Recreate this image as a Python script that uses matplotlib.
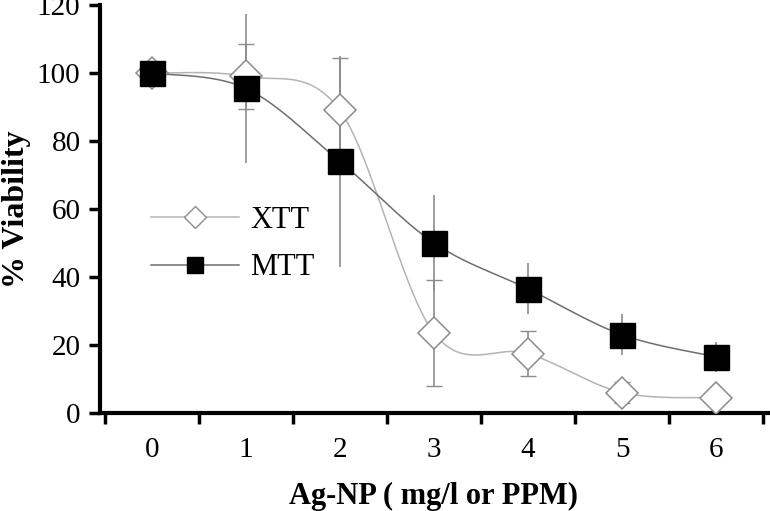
import numpy as np
import matplotlib.pyplot as plt

# donnees
doses = [0, 1, 2, 3, 4, 5, 6]
xtt = [100, 99, 89, 23.5, 17.5, 6, 4.5]
xtt_err = [0.5, 9.5, 15.5, 15.5, 6.6, 3, 1]
mtt = [100, 95.5, 74, 50, 36.5, 23, 16.5]
mtt_err = [0.5, 22, 31, 14, 7.5, 6, 4.5]
yticks = [0, 20, 40, 60, 80, 100, 120]


def lissage(x, y, n=40):
    # courbe lissee type tableur (bezier cubique, tangentes catmull-rom)
    x = np.asarray(x, float)
    y = np.asarray(y, float)
    px = np.concatenate([[x[0]], x, [x[-1]]])
    py = np.concatenate([[y[0]], y, [y[-1]]])
    xs, ys = [], []
    t = np.linspace(0, 1, n)
    for i in range(1, len(px) - 2):
        p0 = np.array([px[i], py[i]])
        p3 = np.array([px[i + 1], py[i + 1]])
        p1 = p0 + (np.array([px[i + 1], py[i + 1]]) - np.array([px[i - 1], py[i - 1]])) / 6
        p2 = p3 - (np.array([px[i + 2], py[i + 2]]) - np.array([px[i], py[i]])) / 6
        b = ((1 - t) ** 3)[:, None] * p0 + (3 * (1 - t) ** 2 * t)[:, None] * p1 \
            + (3 * (1 - t) * t ** 2)[:, None] * p2 + (t ** 3)[:, None] * p3
        xs.append(b[:, 0])
        ys.append(b[:, 1])
    return np.concatenate(xs), np.concatenate(ys)


plt.rcParams['font.family'] = ['Liberation Serif', 'DejaVu Serif']

fig = plt.figure(figsize=(7.7, 5.11), dpi=100)
ax = fig.add_axes([100 / 770, 98 / 511, 668 / 770, 408 / 511])

# barres d'erreur
ax.errorbar(doses, xtt, yerr=xtt_err, fmt='none', ecolor='#8c8c8c',
            elinewidth=1.2, capsize=6, capthick=1, zorder=1)
ax.errorbar(doses, mtt, yerr=mtt_err, fmt='none', ecolor='#8c8c8c',
            elinewidth=1.2, capsize=0, zorder=1)

# courbes lissees
sx, sy = lissage(doses, xtt)
ax.plot(sx, sy, color='#b4b4b4', lw=1.1, zorder=2)
sx, sy = lissage(doses, mtt)
ax.plot(sx, sy, color='#6e6e6e', lw=1.1, zorder=2)

ax.plot(doses, xtt, linestyle='none', marker='D', markersize=16,
        markerfacecolor='white', markeredgecolor='#8c8c8c', markeredgewidth=1.1, zorder=3)
ax.plot(doses, mtt, linestyle='none', marker='s', markersize=18,
        markerfacecolor='black', markeredgecolor='black', zorder=4)

# legende
h1, = ax.plot([], [], color='#b4b4b4', lw=1.1, marker='D', markersize=11,
              markerfacecolor='white', markeredgecolor='#8c8c8c', label='XTT')
h2, = ax.plot([], [], color='#6e6e6e', lw=1.1, marker='s', markersize=12,
              markerfacecolor='black', markeredgecolor='black', label='MTT')
ax.legend(handles=[h1, h2], loc='upper left', bbox_to_anchor=(0.035, 0.575),
          frameon=False, fontsize=22, handlelength=2.9, handletextpad=0.35,
          labelspacing=0.6)

ax.set_xlim(-0.55, 6.55)
ax.set_ylim(0, 120)
ax.set_yticks(yticks)
ax.set_xticks(doses)
ax.set_xticks(np.arange(-0.5, 7, 1), minor=True)
ax.tick_params(axis='y', direction='out', length=8, width=2.5, labelsize=21, pad=6)
ax.tick_params(axis='x', which='major', length=0, labelsize=21, pad=17)
ax.tick_params(axis='x', which='minor', direction='out', length=8, width=2.5)

for s in ['top', 'right']:
    ax.spines[s].set_visible(False)
for s in ['left', 'bottom']:
    ax.spines[s].set_linewidth(3)

ax.set_xlabel("Ag-NP ( mg/l or PPM)", fontsize=22, fontweight='bold', labelpad=14)
ax.set_ylabel("% Viability", fontsize=23, fontweight='bold', labelpad=4)

plt.savefig("out.png", dpi=100)
